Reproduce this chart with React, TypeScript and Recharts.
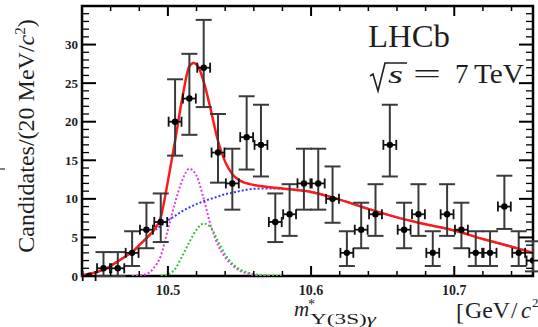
import React from "react";
import { ComposedChart, Line, Scatter, XAxis, YAxis, ErrorBar, ReferenceArea } from "recharts";

const W = 538;
const H = 327;
const MARGIN = { top: 6, right: 5, bottom: 0, left: 0 };
const Y_AXIS_W = 82;
const X_AXIS_H = 51;
const PLOT_W = W - Y_AXIS_W - MARGIN.right;
const PLOT_H = H - MARGIN.top - X_AXIS_H;

const X_DOMAIN = [10.44, 10.755];
const Y_DOMAIN = [0, 35];
const X_TICKS = [10.46, 10.48, 10.5, 10.52, 10.54, 10.56, 10.58, 10.6, 10.62, 10.64, 10.66, 10.68, 10.7, 10.72, 10.74];
const Y_TICKS = [0, 1, 2, 3, 4, 5, 6, 7, 8, 9, 10, 11, 12, 13, 14, 15, 16, 17, 18, 19, 20, 21, 22, 23, 24, 25, 26, 27, 28, 29, 30, 31, 32, 33, 34];
const Y_LABELS = [0, 5, 10, 15, 20, 25, 30];

// data points (bin centres, 10 MeV bins)
const BIN_CENTERS = [
  10.445, 10.455, 10.465, 10.475, 10.485, 10.495, 10.505, 10.515, 10.525, 10.535, 10.545,
  10.555, 10.565, 10.575, 10.585, 10.595, 10.605, 10.615, 10.625, 10.635, 10.645, 10.655,
  10.665, 10.675, 10.685, 10.695, 10.705, 10.715, 10.725, 10.735, 10.745, 10.755,
];
const COUNTS = [0, 1, 1, 3, 6, 7, 20, 23, 27, 16, 12, 18, 17, 7, 8, 12, 12, 10, 3, 6, 8, 17, 6, 8, 3, 8, 6, 3, 3, 9, 3, 2];
const ERR_LOW = [0, 1.0, 1.0, 1.7, 2.4, 2.6, 4.4, 4.7, 5.1, 3.9, 3.4, 4.2, 4.1, 2.6, 2.8, 3.4, 3.4, 3.1, 1.7, 2.4, 2.8, 4.1, 2.4, 2.8, 1.7, 2.8, 2.4, 1.7, 1.7, 2.9, 1.7, 1.4];
const ERR_HIGH = [0, 2.1, 2.1, 2.8, 3.5, 3.7, 5.5, 5.8, 6.2, 5.0, 4.5, 5.3, 5.2, 3.7, 3.9, 4.5, 4.5, 4.2, 2.8, 3.5, 3.9, 5.2, 3.5, 3.9, 2.8, 3.9, 3.5, 2.8, 2.8, 4.0, 2.8, 2.5];
const HALF_BIN = 0.0045;

// fit curves
const FIT_X = [
  10.44, 10.445, 10.45, 10.455, 10.46, 10.465, 10.47, 10.475, 10.48, 10.485, 10.49, 10.495, 10.5,
  10.505, 10.51, 10.515, 10.518, 10.521, 10.525, 10.53, 10.535, 10.54, 10.545, 10.55, 10.56, 10.57,
  10.58, 10.59, 10.6, 10.62, 10.64, 10.66, 10.68, 10.7, 10.72, 10.74, 10.755,
];
const TOTAL = [
  0.1, 0.3, 0.5, 0.8, 1.3, 1.9, 2.5, 3.1, 4.0, 4.9, 5.9, 7.6, 12.3, 17.5, 23.0, 27.2, 27.6, 27.2, 25.2,
  21.5, 17.5, 14.8, 13.2, 12.4, 11.8, 11.55, 11.35, 11.15, 10.9, 9.9, 8.7, 7.6, 6.7, 5.9, 4.8, 3.8, 3.0,
];
const BKG = [
  0.1, 0.3, 0.5, 0.8, 1.3, 1.9, 2.5, 3.1, 4.0, 4.9, 5.8, 6.5, 7.2, 7.8, 8.4, 8.9, 9.15, 9.4, 9.7,
  10.0, 10.3, 10.6, 10.8, 11.0, 11.3, 11.35, 11.3, 11.15, 10.9, 9.9, 8.7, 7.6, 6.7, 5.9, 4.8, 3.8, 3.0,
];
const SIG1_X = [10.475, 10.48, 10.485, 10.49, 10.495, 10.5, 10.505, 10.51, 10.515, 10.52, 10.525, 10.53, 10.535, 10.54, 10.545, 10.55, 10.555, 10.56, 10.57];
const SIG1 = [0, 0.05, 0.25, 1.0, 2.6, 6.0, 9.5, 12.4, 13.9, 13.0, 10.0, 6.5, 4.0, 2.4, 1.4, 0.7, 0.35, 0.15, 0];
const SIG2_X = [10.495, 10.5, 10.505, 10.51, 10.515, 10.52, 10.525, 10.53, 10.535, 10.54, 10.545, 10.55, 10.555, 10.56, 10.57, 10.58];
const SIG2 = [0, 0.2, 0.9, 2.6, 4.4, 6.0, 6.8, 6.3, 4.5, 2.8, 1.6, 0.9, 0.5, 0.25, 0.05, 0];

const points = BIN_CENTERS.map((x, i) => ({ x, y: COUNTS[i], ey: [ERR_LOW[i], ERR_HIGH[i]], ex: HALF_BIN }));
const totalData = FIT_X.map((x, i) => ({ x, y: TOTAL[i] }));
const bkgData = FIT_X.map((x, i) => ({ x, y: BKG[i] }));
const sig1Data = SIG1_X.map((x, i) => ({ x, y: SIG1[i] }));
const sig2Data = SIG2_X.map((x, i) => ({ x, y: SIG2[i] }));

const FONT = "'Liberation Serif', 'Times New Roman', serif";
const INK = "#1e1e1e";

function XTick(props: any) {
  const { x, y, payload } = props;
  const v = payload.value;
  const major = Math.abs(v * 10 - Math.round(v * 10)) < 1e-6;
  const len = major ? 10 : 5;
  const sw = major ? 2 : 1.5;
  return (
    <g>
      <line x1={x} x2={x} y1={y} y2={y - len} stroke="#000" strokeWidth={sw} />
      <line x1={x} x2={x} y1={y - PLOT_H} y2={y - PLOT_H + len} stroke="#000" strokeWidth={sw} />
      {major && (
        <text x={x} y={y + 19} textAnchor="middle" fontFamily={FONT} fontWeight="bold" fontSize={14} fill={INK}>
          {v.toFixed(1)}
        </text>
      )}
    </g>
  );
}

function YTick(props: any) {
  const { x, y, payload } = props;
  const v = payload.value;
  const major = v % 5 === 0;
  const len = major ? 14 : 7;
  const sw = major ? 2 : 1.3;
  return (
    <g>
      <line x1={x} x2={x + len} y1={y} y2={y} stroke="#000" strokeWidth={sw} />
      <line x1={x + PLOT_W} x2={x + PLOT_W - len} y1={y} y2={y} stroke="#000" strokeWidth={sw} />
      {Y_LABELS.includes(v) && (
        <text x={x - 4} y={y + 4.5} textAnchor="end" fontFamily={FONT} fontWeight="bold" fontSize={13} fill={INK}>
          {v}
        </text>
      )}
    </g>
  );
}

const Dot = (p: any) => <circle cx={p.cx} cy={p.cy} r={3.2} fill="#000" />;

export default function App() {
  return (
    <div style={{ position: "absolute", left: 0, top: 0, width: W, height: H, background: "#fff" }}>
      <ComposedChart width={W} height={H} margin={MARGIN}>
        <XAxis type="number" dataKey="x" domain={X_DOMAIN} ticks={X_TICKS} tick={XTick} tickLine={false}
          axisLine={false} height={X_AXIS_H} tickSize={0} tickMargin={0} interval={0} allowDataOverflow />
        <YAxis type="number" domain={Y_DOMAIN} ticks={Y_TICKS} tick={YTick} tickLine={false}
          axisLine={false} width={Y_AXIS_W} tickSize={0} tickMargin={0} interval={0} allowDataOverflow />
        <Line data={sig1Data} dataKey="y" type="monotone" stroke="#e040e8" strokeWidth={2}
          strokeDasharray="2 2" dot={false} isAnimationActive={false} />
        <Line data={sig2Data} dataKey="y" type="monotone" stroke="#30c830" strokeWidth={2}
          strokeDasharray="2 2" dot={false} isAnimationActive={false} />
        <Line data={bkgData} dataKey="y" type="monotone" stroke="#3a3aff" strokeWidth={2}
          strokeDasharray="2 2" dot={false} isAnimationActive={false} />
        <Line data={totalData} dataKey="y" type="monotone" stroke="#ff1a1a" strokeWidth={2.5}
          dot={false} isAnimationActive={false} />
        <ReferenceArea x1={X_DOMAIN[0]} x2={X_DOMAIN[1]} y1={Y_DOMAIN[0]} y2={Y_DOMAIN[1]}
          fill="none" stroke="#000" strokeWidth={2.5} ifOverflow="visible" />
        <Scatter data={points} dataKey="y" shape={Dot} isAnimationActive={false}>
          <ErrorBar dataKey="ey" direction="y" width={8} stroke="#3a3a3a" strokeWidth={2} isAnimationActive={false} />
          <ErrorBar dataKey="ex" direction="x" width={5} stroke="#111" strokeWidth={1.8} isAnimationActive={false} />
        </Scatter>
      </ComposedChart>

      <svg width={W} height={H} style={{ position: "absolute", left: 0, top: 0, pointerEvents: "none" }}
        fontFamily={FONT} fill={INK}>
        <line x1={0} x2={5} y1={169} y2={169} stroke="#333" strokeWidth={1.2} />
        <text transform="rotate(-90, 34, 136)" x={34} y={136} textAnchor="middle" fontSize={24}>
          Candidates/(20 MeV/<tspan fontStyle="italic">c</tspan>
          <tspan dy={-9} fontSize={15}>2</tspan>
          <tspan dy={9}>)</tspan>
        </text>

        <text x={368} y={47} fontSize={31} textLength={82} lengthAdjust="spacingAndGlyphs">LHCb</text>
        <polyline points="370,76 373,74 378,91 385,63 407,63" fill="none" stroke={INK} strokeWidth={1.6} />
        <text x={388} y={83} fontSize={26} fontStyle="italic" textLength={15} lengthAdjust="spacingAndGlyphs">s</text>
        <text x={413} y={83} fontSize={27} textLength={28} lengthAdjust="spacingAndGlyphs">=</text>
        <text x={455} y={83} fontSize={27}>7</text>
        <text x={474} y={83} fontSize={27} textLength={50} lengthAdjust="spacingAndGlyphs">TeV</text>

        <text x={294} y={316} fontSize={21} fontStyle="italic">m</text>
        <text x={308} y={309} fontSize={14}>*</text>
        <text x={310} y={324} fontSize={15} textLength={66} lengthAdjust="spacingAndGlyphs">
          Υ(3S)<tspan fontStyle="italic">γ</tspan>
        </text>

        <text x={456} y={320} fontSize={24}>[</text>
        <text x={465} y={318} fontSize={23} textLength={45} lengthAdjust="spacingAndGlyphs">GeV</text>
        <text x={511} y={318} fontSize={23}>/</text>
        <text x={521} y={318} fontSize={23} fontStyle="italic">c</text>
        <text x={532} y={307} fontSize={13}>2</text>
      </svg>
    </div>
  );
}
